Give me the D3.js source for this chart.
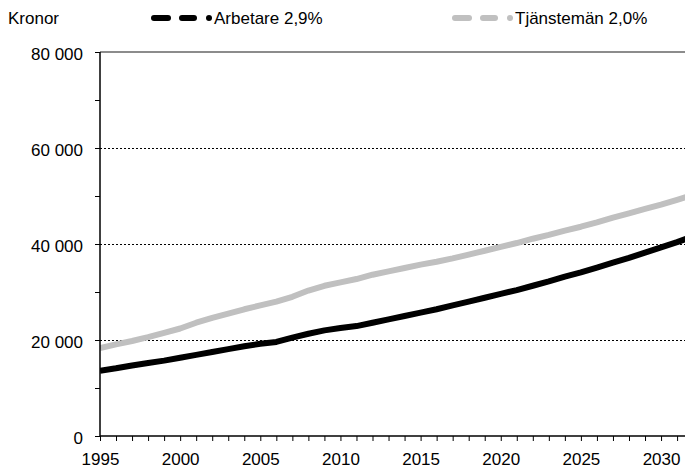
<!DOCTYPE html>
<html><head><meta charset="utf-8">
<script src="https://cdn.jsdelivr.net/npm/d3@7"></script>
<style>body{margin:0;background:#fff}svg{display:block;font-family:"Liberation Sans",Arial,sans-serif}</style>
</head><body><svg id="c" width="685" height="471"></svg>
<script>
const years = d3.range(1995, 2033);
const arbetare = [13600,14100,14700,15200,15700,16300,16900,17500,18100,18700,19200,19600,20500,21300,22000,22500,22900,23600,24300,25000,25700,26400,27200,28000,28800,29600,30400,31300,32200,33200,34100,35100,36100,37100,38200,39300,40400,41600];
const tjansteman = [18300,19100,19800,20600,21500,22400,23600,24600,25500,26400,27200,28000,29000,30300,31300,32000,32700,33600,34300,35000,35700,36300,37000,37800,38600,39400,40200,41100,41900,42800,43600,44500,45500,46400,47300,48200,49200,50200];
const seriesNames = ["Arbetare 2,9%", "Tjänstemän 2,0%"];
const yTicks = [0, 20000, 40000, 60000, 80000];
const xTickLabels = [1995, 2000, 2005, 2010, 2015, 2020, 2025, 2030];
const yAxisTitle = "Kronor";

const svg = d3.select("#c");
const L = 100, R = 685, T = 52, B = 436;
const FS = 17;
const x = d3.scaleLinear().domain([1995, 1995 + (R - L) / 16.03]).range([L, R]);
const y = d3.scaleLinear().domain([0, 80000]).range([B, T]);
const fmt = v => d3.format(",")(v).replace(/,/g, " ");

// gridlines
svg.append("g").selectAll("line").data(yTicks.filter(v => v > 0 && v < 80000)).join("line")
  .attr("x1", L).attr("x2", R).attr("y1", d => y(d) + 0.5).attr("y2", d => y(d) + 0.5)
  .attr("stroke", "#000").attr("stroke-width", 1).attr("stroke-dasharray", "2,2");
// top border
svg.append("line").attr("x1", L).attr("x2", R).attr("y1", y(80000)).attr("y2", y(80000))
  .attr("stroke", "#8c8c8c").attr("stroke-width", 2);

// lines
svg.append("clipPath").attr("id", "cp").append("rect")
  .attr("x", L).attr("y", 0).attr("width", R - L).attr("height", B);
const line = d3.line().x((d, i) => x(years[i])).y(d => y(d));
const g = svg.append("g").attr("clip-path", "url(#cp)");
g.append("path").datum(tjansteman).attr("d", line).attr("fill", "none")
  .attr("stroke", "#c0c0c0").attr("stroke-width", 6).attr("stroke-linejoin", "round");
g.append("path").datum(arbetare).attr("d", line).attr("fill", "none")
  .attr("stroke", "#000").attr("stroke-width", 6).attr("stroke-linejoin", "round");

// y axis
const yAxis = d3.axisLeft(y).tickValues(d3.range(0, 80001, 10000)).tickSize(5)
  .tickFormat(d => yTicks.includes(d) ? fmt(d) : "");
const ya = svg.append("g").attr("transform", `translate(${L},0)`).call(yAxis);
ya.select(".domain").attr("stroke", "#000").attr("stroke-width", 1.5).attr("d", `M-0,${y(80000)}V${B}`);
ya.selectAll(".tick line").attr("stroke", "#000");
ya.selectAll("text").attr("font-size", FS).attr("fill", "#000").attr("x", -17).attr("dy", "0.42em")
  .attr("font-family", "Liberation Sans, Arial, sans-serif");

// x axis
const xAxis = d3.axisBottom(x).tickValues(d3.range(1995, 2032)).tickSize(5)
  .tickFormat(d => xTickLabels.includes(d) ? d : "");
const xa = svg.append("g").attr("transform", `translate(0,${B})`).call(xAxis);
xa.select(".domain").attr("stroke", "#000").attr("stroke-width", 1.5).attr("d", `M${L},0H${R}`);
xa.selectAll(".tick line").attr("stroke", "#000");
xa.selectAll("text").attr("font-size", FS).attr("fill", "#000").attr("y", 29).attr("dy", "0")
  .attr("font-family", "Liberation Sans, Arial, sans-serif");

// title
svg.append("text").attr("x", 8).attr("y", 24).attr("font-size", FS).text(yAxisTitle);

// legend
const leg = [{name: seriesNames[0], color: "#000", x0: 151}, {name: seriesNames[1], color: "#c0c0c0", x0: 452}];
leg.forEach(l => {
  const gg = svg.append("g");
  gg.append("line").attr("x1", l.x0 + 3).attr("x2", l.x0 + 17).attr("y1", 18).attr("y2", 18)
    .attr("stroke", l.color).attr("stroke-width", 6).attr("stroke-linecap", "round");
  gg.append("line").attr("x1", l.x0 + 31).attr("x2", l.x0 + 43).attr("y1", 18).attr("y2", 18)
    .attr("stroke", l.color).attr("stroke-width", 6).attr("stroke-linecap", "round");
  gg.append("circle").attr("cx", l.x0 + 58).attr("cy", 18).attr("r", 3).attr("fill", l.color);
  gg.append("text").attr("x", l.x0 + 63).attr("y", 24).attr("font-size", FS).text(l.name);
});
</script></body></html>
